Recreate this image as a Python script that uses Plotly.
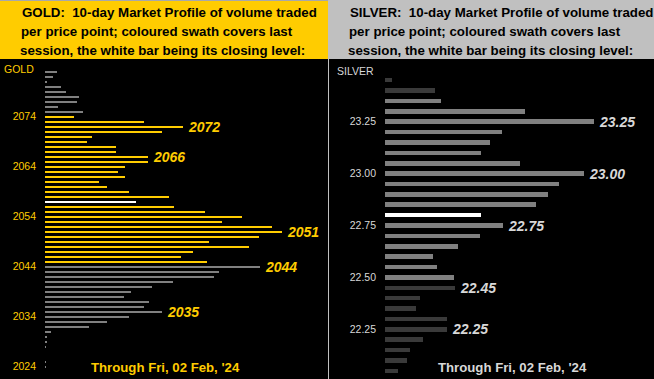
import plotly.graph_objects as go

W, H = 654, 379

# ---------------- data ----------------
gold_prices = list(range(2083, 2023, -1))
gold_volume = [12, 8, 2, 16, 21, 34, 32, 13, 38,
               29, 99, 138, 117, 47, 42, 71, 71, 103, 103,
               80, 73, 80, 54, 62, 84, 124, 91, 129, 160,
               197, 177, 227, 237, 214, 164, 204, 148, 136, 162,
               215, 174, 169, 128, 107, 86, 79, 104, 99, 117,
               84, 62, 44, 6, 2, 2, 1, 0, 0, 1, 1]
gold_session_low, gold_session_high = 2045, 2074
gold_close = 2057
gold_labels = [2072, 2066, 2051, 2044, 2035]
gold_ticks = [2024, 2034, 2044, 2054, 2064, 2074]

silver_prices = [23.45, 23.40, 23.35, 23.30, 23.25, 23.20, 23.15, 23.10, 23.05,
                 23.00, 22.95, 22.90, 22.85, 22.80, 22.75, 22.70, 22.65, 22.60,
                 22.55, 22.50, 22.45, 22.40, 22.35, 22.30, 22.25, 22.20, 22.15,
                 22.10, 22.05]
silver_volume = [7, 50, 56, 140, 209, 117, 105, 96, 135,
                 199, 174, 163, 151, 96, 118, 95, 73, 48,
                 52, 69, 70, 35, 31, 62, 62, 38, 25, 22, 13]
silver_session_low, silver_session_high = 22.50, 23.35
silver_close = 22.80
silver_labels = [23.25, 23.00, 22.75, 22.45, 22.25]
silver_ticks = [22.25, 22.50, 22.75, 23.00, 23.25]

date_text = "Through Fri, 02 Feb, '24"
gold_title = ["GOLD:\u00a0\u00a010-day Market Profile of volume traded",
              "per price point; coloured swath covers last",
              "session, the white bar being its closing level:"]
silver_title = ["SILVER:\u00a0\u00a010-day Market Profile of volume traded",
                "per price point; coloured swath covers last",
                "session, the white bar being its closing level:"]

# ---------------- styles ----------------
YELLOW = "#FFCC00"
GREY = "#808080"
DARK = "#3A3A3A"
SILVER_HDR = "#C0C0C0"
SILVER_TXT = "#D8D8D8"
FONT = "Liberation Sans, Arial, sans-serif"


def px_x(v):
    return v / W


def px_y(v):
    return 1 - v / H


gold_colors = []
for p in gold_prices:
    if p == gold_close:
        gold_colors.append("#FFFFFF")
    elif gold_session_low <= p <= gold_session_high:
        gold_colors.append(YELLOW)
    else:
        gold_colors.append(GREY)

silver_colors = []
for p in silver_prices:
    if abs(p - silver_close) < 1e-6:
        silver_colors.append("#FFFFFF")
    elif silver_session_low - 1e-6 <= p <= silver_session_high + 1e-6:
        silver_colors.append(GREY)
    else:
        silver_colors.append(DARK)

fig = go.Figure()
fig.add_trace(go.Bar(x=gold_volume, y=gold_prices, orientation="h",
                     marker=dict(color=gold_colors, line=dict(width=0)),
                     width=0.42, xaxis="x", yaxis="y", hoverinfo="skip"))
fig.add_trace(go.Bar(x=silver_volume, y=silver_prices, orientation="h",
                     marker=dict(color=silver_colors, line=dict(width=0)),
                     width=0.022, xaxis="x2", yaxis="y2", hoverinfo="skip"))

# pixel -> data mapping for y axes
g_ref_p, g_ref_px, g_ppu = 2074, 116.7, 5.0
g_top = g_ref_p + g_ref_px / g_ppu
g_bot = g_ref_p - (H - g_ref_px) / g_ppu
s_ref_p, s_ref_px, s_ppu = 23.25, 121.7, 207.6
s_top = s_ref_p + s_ref_px / s_ppu
s_bot = s_ref_p - (H - s_ref_px) / s_ppu

annotations = []
gv = dict(zip(gold_prices, gold_volume))
for p in gold_labels:
    annotations.append(dict(x=gv[p], y=p, xref="x", yref="y", text=str(p),
                            showarrow=False, xanchor="left", yanchor="middle",
                            xshift=3,
                            font=dict(family=FONT, size=14, color=YELLOW,
                                      weight="bold", style="italic")))
sv = {round(p, 2): v for p, v in zip(silver_prices, silver_volume)}
for p in silver_labels:
    annotations.append(dict(x=sv[round(p, 2)], y=p, xref="x2", yref="y2",
                            text=f"{p:.2f}", showarrow=False, xanchor="left",
                            yanchor="middle", xshift=3,
                            font=dict(family=FONT, size=14, color=SILVER_TXT,
                                      weight="bold", style="italic")))

for i, (t, yy) in enumerate(zip(gold_title, [12.7, 31.7, 50.7])):
    annotations.append(dict(x=px_x(20 - i), y=px_y(yy), xref="paper", yref="paper",
                            text=t, showarrow=False, xanchor="left", yanchor="middle",
                            font=dict(family=FONT, size=13.3, color="#000000",
                                      weight="bold")))
for i, (t, yy) in enumerate(zip(silver_title, [12.7, 31.7, 50.7])):
    annotations.append(dict(x=px_x(348 - i), y=px_y(yy), xref="paper", yref="paper",
                            text=t, showarrow=False, xanchor="left", yanchor="middle",
                            font=dict(family=FONT, size=13.3, color="#000000",
                                      weight="bold")))

annotations.append(dict(x=px_x(36), y=px_y(68.5), xref="paper", yref="paper",
                        text="GOLD", showarrow=False, xanchor="right", yanchor="middle",
                        font=dict(family=FONT, size=10.5, color=YELLOW)))
annotations.append(dict(x=px_x(376), y=px_y(70.5), xref="paper", yref="paper",
                        text="SILVER", showarrow=False, xanchor="right", yanchor="middle",
                        font=dict(family=FONT, size=10.5, color=SILVER_TXT)))
annotations.append(dict(x=px_x(89), y=px_y(367), xref="paper", yref="paper",
                        text=date_text, showarrow=False, xanchor="left", yanchor="middle",
                        font=dict(family=FONT, size=13.2, color=YELLOW, weight="bold")))
annotations.append(dict(x=px_x(436), y=px_y(367), xref="paper", yref="paper",
                        text=date_text, showarrow=False, xanchor="left", yanchor="middle",
                        font=dict(family=FONT, size=13.2, color=SILVER_TXT, weight="bold")))

shapes = [
    dict(type="rect", xref="paper", yref="paper", x0=0, x1=px_x(328),
         y0=px_y(59), y1=1, fillcolor=YELLOW, line=dict(width=0), layer="below"),
    dict(type="rect", xref="paper", yref="paper", x0=px_x(328), x1=1,
         y0=px_y(59), y1=1, fillcolor=SILVER_HDR, line=dict(width=0), layer="below"),
    dict(type="line", xref="paper", yref="paper", x0=px_x(328.5), x1=px_x(328.5),
         y0=0, y1=px_y(59), line=dict(color=SILVER_HDR, width=1)),
    dict(type="line", xref="paper", yref="paper", x0=0, x1=px_x(328),
         y0=px_y(0.5), y1=px_y(0.5), line=dict(color="#A8A8A8", width=1)),
]

axis_off = dict(showgrid=False, zeroline=False, showline=False,
                showticklabels=False, ticks="")
fig.update_layout(
    width=W, height=H,
    margin=dict(l=0, r=0, t=0, b=0),
    paper_bgcolor="#000000", plot_bgcolor="#000000",
    showlegend=False, bargap=0,
    xaxis=dict(domain=[px_x(45), px_x(328)], range=[0, 283], fixedrange=True, **axis_off),
    yaxis=dict(domain=[0, 1], range=[g_bot, g_top], anchor="x",
               tickvals=gold_ticks, ticktext=[str(t) for t in gold_ticks],
               showgrid=False, zeroline=False, showline=False, ticks="",
               ticklabelstandoff=8,
               tickfont=dict(family=FONT, size=10.5, color=YELLOW)),
    xaxis2=dict(domain=[px_x(385), 1], range=[0, 269], fixedrange=True, **axis_off),
    yaxis2=dict(domain=[0, 1], range=[s_bot, s_top], anchor="x2",
                tickvals=silver_ticks, ticktext=[f"{t:.2f}" for t in silver_ticks],
                showgrid=False, zeroline=False, showline=False, ticks="",
                ticklabelstandoff=8,
                tickfont=dict(family=FONT, size=10.5, color=SILVER_TXT)),
    annotations=annotations,
    shapes=shapes,
)

fig.write_html("out.html", config={"displayModeBar": False},
               post_script="document.body.style.margin='0';document.body.style.background='#000';")
